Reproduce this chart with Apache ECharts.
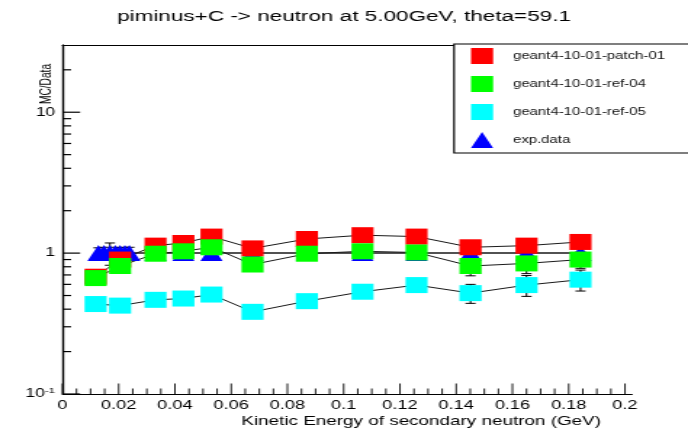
<!DOCTYPE html>
<html>
<head>
<meta charset="utf-8">
<script src="https://cdn.jsdelivr.net/npm/echarts@6/dist/echarts.min.js"></script>
<style>
  html, body { margin: 0; padding: 0; background: #fff; overflow: hidden; width: 688px; height: 429px; }
  /* The plot is laid out on a narrower canvas and widened, giving the wide ROOT-style glyphs and markers. */
  #wrap { width: 474px; height: 429px; transform: scaleX(1.4515); transform-origin: 0 0; }
  #chart { width: 474px; height: 429px; }
</style>
</head>
<body>
<div id="wrap"><div id="chart"></div></div>
<script>
// Kinetic energy (GeV) of the MC bins
const mcX = [0.0118, 0.0205, 0.0331, 0.043, 0.053, 0.0676, 0.0869, 0.1067, 0.1259, 0.1451, 0.165, 0.1842];
// MC/Data ratios per Geant4 version
const patch01 = [0.68, 0.90, 1.13, 1.18, 1.31, 1.08, 1.26, 1.34, 1.31, 1.10, 1.13, 1.20];
const patch01Err = [0.04, 0.05, 0.05, 0.05, 0.06, 0.06, 0.06, 0.08, 0.09, 0.10, 0.11, 0.12];
const ref04 = [0.665, 0.81, 0.99, 1.03, 1.10, 0.83, 0.99, 1.03, 1.01, 0.81, 0.845, 0.90];
const ref04Err = [0.03, 0.04, 0.05, 0.05, 0.05, 0.05, 0.06, 0.07, 0.08, 0.12, 0.13, 0.12];
const ref05 = [0.435, 0.424, 0.466, 0.476, 0.508, 0.383, 0.456, 0.532, 0.593, 0.52, 0.593, 0.648];
const ref05Err = [0.02, 0.02, 0.02, 0.02, 0.03, 0.03, 0.03, 0.05, 0.06, 0.08, 0.10, 0.11];
// Experimental points (ratio to itself) with their relative errors
const expX = [0.0128, 0.0148, 0.0169, 0.0188, 0.0205, 0.0222, 0.0238, 0.0331, 0.043, 0.053, 0.0676, 0.0869, 0.1067, 0.1259, 0.1451, 0.165, 0.1842];
const expY = [1, 1, 1, 1, 1, 1, 1, 1, 1, 1, 1, 1, 1, 1, 1, 1, 1];
const expErr = [0.09, 0.10, 0.18, 0.10, 0.09, 0.10, 0.10, 0.08, 0.08, 0.08, 0.08, 0.08, 0.08, 0.08, 0.08, 0.08, 0.08];
// Axis ticks
const xMajorTicks = [0, 0.02, 0.04, 0.06, 0.08, 0.1, 0.12, 0.14, 0.16, 0.18, 0.2];
const xMinorTicks = [0.005, 0.01, 0.015, 0.025, 0.03, 0.035, 0.045, 0.05, 0.055, 0.065, 0.07, 0.075,
  0.085, 0.09, 0.095, 0.105, 0.11, 0.115, 0.125, 0.13, 0.135, 0.145, 0.15, 0.155, 0.165, 0.17, 0.175,
  0.185, 0.19, 0.195];
const yMajorTicks = [0.1, 1, 10];
const yMinorTicks = [0.2, 0.3, 0.4, 0.5, 0.6, 0.7, 0.8, 0.9, 2, 3, 4, 5, 6, 7, 8, 9, 20];

const FONT = '"Liberation Sans", Arial, Helvetica, sans-serif';
const names = ['geant4-10-01-patch-01', 'geant4-10-01-ref-04', 'geant4-10-01-ref-05', 'exp.data'];
const colors = ['#ff0000', '#00ff00', '#00ffff', '#0000ff'];
const SQUARE = [15.2, 16];
const FRAME = { show: true, lineStyle: { color: '#000', width: 1.2 } };

function pairs(xs, ys) { return xs.map((x, i) => [x, ys[i]]); }
function triples(xs, ys, es) { return xs.map((x, i) => [x, ys[i], es[i]]); }

function errorBars(data) {
  return {
    type: 'custom',
    silent: true,
    data: data,
    renderItem: function (params, api) {
      const x = api.value(0), y = api.value(1), e = api.value(2);
      const hi = api.coord([x, y + e]);
      const lo = api.coord([x, Math.max(y - e, 0.1001)]);
      const cap = 3.5;
      const st = { stroke: '#000', lineWidth: 1 };
      return {
        type: 'group',
        children: [
          { type: 'line', shape: { x1: hi[0], y1: hi[1], x2: lo[0], y2: lo[1] }, style: st },
          { type: 'line', shape: { x1: hi[0] - cap, y1: hi[1], x2: hi[0] + cap, y2: hi[1] }, style: st },
          { type: 'line', shape: { x1: lo[0] - cap, y1: lo[1], x2: lo[0] + cap, y2: lo[1] }, style: st }
        ]
      };
    }
  };
}

function mcSeries(idx, ys) {
  return {
    type: 'line',
    name: names[idx],
    data: pairs(mcX, ys),
    symbol: 'rect',
    symbolSize: SQUARE,
    itemStyle: { color: colors[idx] },
    lineStyle: { color: '#1a1a1a', width: 1 },
    silent: true
  };
}

// bare axis used only to close the frame on the top and right sides
function frameAxis(extra) {
  return Object.assign({
    axisLine: FRAME, axisTick: { show: false }, axisLabel: { show: false },
    splitLine: { show: false }
  }, extra);
}

const xTickData = xMajorTicks.map(v => [v, 0.1, 1]).concat(xMinorTicks.map(v => [v, 0.1, 0]));
const yTickData = yMajorTicks.map(v => [0, v, 1]).concat(yMinorTicks.map(v => [0, v, 0]));

const chart = echarts.init(document.getElementById('chart'), null, { renderer: 'canvas' });
chart.setOption({
  animation: false,
  backgroundColor: '#fff',
  textStyle: { fontFamily: FONT },
  title: {
    text: 'piminus+C -> neutron at 5.00GeV, theta=59.1',
    left: 'center',
    top: 9,
    padding: 0,
    textStyle: { fontFamily: FONT, fontSize: 15.5, fontWeight: 'normal', color: '#000' }
  },
  grid: { left: 43, right: 38.6, top: 45, bottom: 35, show: false },
  legend: {
    orient: 'vertical',
    z: 20,
    left: 312.8,
    top: 44,
    padding: [4, 40, 5, 11.7],
    itemWidth: 15.2,
    itemHeight: 16,
    itemGap: 12,
    backgroundColor: 'transparent',
    borderWidth: 0,
    selectedMode: false,
    textStyle: { fontFamily: FONT, fontSize: 10.3, color: '#111', padding: [0, 0, 0, 8.7] },
    data: [
      { name: names[0], icon: 'rect' },
      { name: names[1], icon: 'rect' },
      { name: names[2], icon: 'rect' },
      { name: names[3], icon: 'triangle' }
    ]
  },
  xAxis: [
    {
      type: 'value',
      min: 0,
      max: 0.2025,
      interval: 0.02,
      axisLine: FRAME,
      axisTick: { show: false },
      splitLine: { show: false },
      axisLabel: {
        margin: 5,
        fontSize: 12.5,
        color: '#000',
        fontFamily: FONT,
        hideOverlap: false,
        formatter: function (v) {
          const k = Math.round(v / 0.02);
          if (Math.abs(v - k * 0.02) > 1e-6 || v > 0.2001) return '';
          return String(+v.toFixed(2));
        }
      }
    },
    frameAxis({ type: 'value', position: 'top', min: 0, max: 0.2025 })
  ],
  yAxis: [
    {
      type: 'log',
      logBase: 10,
      min: 0.1,
      max: 30,
      axisLine: FRAME,
      axisTick: { show: false },
      splitLine: { show: false },
      axisLabel: {
        margin: 5,
        fontSize: 12,
        color: '#000',
        fontFamily: FONT,
        formatter: function (v) {
          const l = Math.log10(v);
          if (Math.abs(l - Math.round(l)) > 1e-6) return '';
          const p = Math.round(l);
          if (p < 0) return '{b|10}{s|' + p + '}';
          return String(Math.pow(10, p));
        },
        rich: {
          b: { fontSize: 12, color: '#000', fontFamily: FONT },
          s: { fontSize: 8, color: '#000', fontFamily: FONT, padding: [0, 0, 7, 0] }
        }
      }
    },
    frameAxis({ type: 'log', logBase: 10, position: 'right', min: 0.1, max: 30 })
  ],
  graphic: [
    // legend frame, running off the right edge of the canvas
    {
      type: 'rect',
      z: 15,
      silent: true,
      shape: { x: 312.8, y: 44, width: 220, height: 109 },
      style: { fill: '#fff', stroke: '#000', lineWidth: 1.2 }
    },
    {
      type: 'text',
      x: 32.4, y: 84,
      rotation: Math.PI / 2,
      style: { text: 'MC/Data', fontSize: 10.2, fontFamily: FONT, fill: '#000', align: 'center', verticalAlign: 'middle' }
    },
    {
      type: 'text',
      x: 414.1, y: 421,
      style: { text: 'Kinetic Energy of secondary neutron (GeV)', fontSize: 13, fontFamily: FONT, fill: '#000', align: 'right', verticalAlign: 'middle' }
    }
  ],
  series: [
    // axis ticks drawn inward, ROOT style
    {
      type: 'custom', silent: true, z: 5, data: xTickData,
      renderItem: function (params, api) {
        const p = api.coord([api.value(0), 0.1]);
        const len = api.value(2) ? 10.5 : 5.5;
        return { type: 'line', shape: { x1: p[0], y1: p[1], x2: p[0], y2: p[1] - len }, style: { stroke: '#000', lineWidth: 0.9 } };
      }
    },
    {
      type: 'custom', silent: true, z: 5, data: yTickData,
      renderItem: function (params, api) {
        const p = api.coord([0, api.value(1)]);
        const len = api.value(2) ? 12.2 : 6;
        return { type: 'line', shape: { x1: p[0], y1: p[1], x2: p[0] + len, y2: p[1] }, style: { stroke: '#000', lineWidth: 1.2 } };
      }
    },
    errorBars(triples(expX, expY, expErr)),
    {
      type: 'line',
      name: names[3],
      data: pairs(expX, expY),
      symbol: 'triangle',
      symbolSize: SQUARE,
      itemStyle: { color: colors[3] },
      lineStyle: { color: '#1a1a1a', width: 1.5 },
      silent: true
    },
    errorBars(triples(mcX, patch01, patch01Err)),
    mcSeries(0, patch01),
    errorBars(triples(mcX, ref04, ref04Err)),
    mcSeries(1, ref04),
    errorBars(triples(mcX, ref05, ref05Err)),
    mcSeries(2, ref05)
  ]
});
</script>
</body>
</html>
